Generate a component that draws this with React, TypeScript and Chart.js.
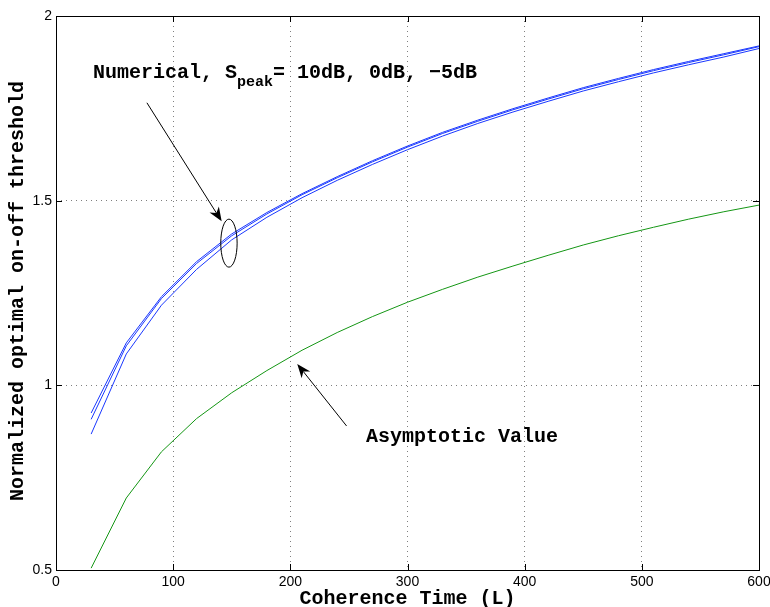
import React, { useEffect, useRef } from 'react';
import { Chart, registerables } from 'chart.js';

Chart.register(...registerables);

// ---- data ----
const coherenceTimes = [30, 60, 90, 120, 150, 180, 210, 240, 270, 300, 330, 360, 390, 420, 450, 480, 510, 540, 570, 600];
const numerical10dB = [0.925, 1.115, 1.24, 1.335, 1.41, 1.468, 1.519, 1.565, 1.608, 1.648, 1.685, 1.718, 1.749, 1.778, 1.806, 1.831, 1.855, 1.877, 1.898, 1.919];
const numerical0dB = [0.908, 1.107, 1.235, 1.33, 1.405, 1.464, 1.516, 1.562, 1.605, 1.645, 1.682, 1.715, 1.746, 1.775, 1.803, 1.828, 1.852, 1.874, 1.895, 1.917];
const numericalMinus5dB = [0.868, 1.085, 1.217, 1.314, 1.394, 1.455, 1.508, 1.555, 1.598, 1.638, 1.675, 1.709, 1.74, 1.769, 1.797, 1.822, 1.846, 1.868, 1.889, 1.912];
const asymptoticValue = [0.505, 0.695, 0.82, 0.91, 0.98, 1.04, 1.095, 1.143, 1.186, 1.225, 1.26, 1.293, 1.323, 1.352, 1.38, 1.405, 1.428, 1.45, 1.47, 1.488];

const xTicks = [0, 100, 200, 300, 400, 500, 600];
const yTicks = [0.5, 1, 1.5, 2];

const xTitle = 'Coherence Time (L)';
const yTitle = 'Normalized optimal on-off threshold';
const numLabelMain = 'Numerical, S';
const numLabelSub = 'peak';
const numLabelRest = '= 10dB, 0dB, \u22125dB';
const asymLabel = 'Asymptotic Value';

// annotation anchors (data coordinates)
const numTextAt = [31.6, 1.832];
const numArrowFrom = [77.6, 1.765];
const numArrowTo = [141.4, 1.444];
const ellipseAt = [147.6, 1.385];
const ellipseRadius = [7, 0.065];
const asymTextAt = [264.5, 0.846];
const asymArrowFrom = [248, 0.89];
const asymArrowTo = [205.9, 1.058];

const MONO = '"Liberation Mono", "Courier New", monospace';
const SANS = '"Liberation Sans", Arial, Helvetica, sans-serif';

function toPts(ys: number[]) {
  return coherenceTimes.map((x, i) => ({ x, y: ys[i] }));
}

function drawArrow(ctx: CanvasRenderingContext2D, x0: number, y0: number, x1: number, y1: number) {
  const ang = Math.atan2(y1 - y0, x1 - x0);
  const c = Math.cos(ang), s = Math.sin(ang);
  const L = 14, W = 5.5;
  ctx.beginPath();
  ctx.moveTo(x0, y0);
  ctx.lineTo(x1 - L * 0.7 * c, y1 - L * 0.7 * s);
  ctx.stroke();
  ctx.beginPath();
  ctx.moveTo(x1, y1);
  ctx.lineTo(x1 - L * c + W * s, y1 - L * s - W * c);
  ctx.lineTo(x1 - L * 0.7 * c, y1 - L * 0.7 * s);
  ctx.lineTo(x1 - L * c - W * s, y1 - L * s + W * c);
  ctx.closePath();
  ctx.fill();
}

const overlayPlugin = {
  id: 'overlay',
  afterDraw(chart: any) {
    const { ctx, chartArea: a } = chart;
    const xs = chart.scales.x, ys = chart.scales.y;
    const px = (v: number) => xs.getPixelForValue(v);
    const py = (v: number) => ys.getPixelForValue(v);
    ctx.save();
    ctx.strokeStyle = '#000';
    ctx.fillStyle = '#000';
    ctx.lineWidth = 1;
    ctx.setLineDash([]);
    // frame
    ctx.strokeRect(a.left + 0.5, a.top + 0.5, a.right - a.left, a.bottom - a.top);
    // inward ticks
    ctx.beginPath();
    for (const v of xTicks) {
      const X = Math.round(px(v)) + 0.5;
      ctx.moveTo(X, a.bottom); ctx.lineTo(X, a.bottom - 6);
      ctx.moveTo(X, a.top); ctx.lineTo(X, a.top + 6);
    }
    for (const v of yTicks) {
      const Y = Math.round(py(v)) + 0.5;
      ctx.moveTo(a.left, Y); ctx.lineTo(a.left + 6, Y);
      ctx.moveTo(a.right, Y); ctx.lineTo(a.right - 6, Y);
    }
    ctx.stroke();

    // annotations
    ctx.textAlign = 'left';
    ctx.textBaseline = 'alphabetic';
    ctx.font = `bold 20px ${MONO}`;
    let tx = px(numTextAt[0]);
    const ty = py(numTextAt[1]);
    ctx.fillText(numLabelMain, tx, ty);
    tx += ctx.measureText(numLabelMain).width;
    ctx.font = `bold 15px ${MONO}`;
    ctx.fillText(numLabelSub, tx, ty + 8);
    tx += ctx.measureText(numLabelSub).width;
    ctx.font = `bold 20px ${MONO}`;
    ctx.fillText(numLabelRest, tx, ty);

    ctx.fillText(asymLabel, px(asymTextAt[0]), py(asymTextAt[1]));

    drawArrow(ctx, px(numArrowFrom[0]), py(numArrowFrom[1]), px(numArrowTo[0]), py(numArrowTo[1]));
    drawArrow(ctx, px(asymArrowFrom[0]), py(asymArrowFrom[1]), px(asymArrowTo[0]), py(asymArrowTo[1]));

    const ex = px(ellipseAt[0]), ey = py(ellipseAt[1]);
    const rx = Math.abs(px(ellipseAt[0] + ellipseRadius[0]) - ex);
    const ry = Math.abs(py(ellipseAt[1] + ellipseRadius[1]) - ey);
    ctx.beginPath();
    ctx.ellipse(ex, ey, rx, ry, 0, 0, Math.PI * 2);
    ctx.stroke();

    // axis titles
    ctx.font = `bold 20px ${MONO}`;
    ctx.textAlign = 'center';
    ctx.fillText(xTitle, (a.left + a.right) / 2, 604);
    ctx.save();
    ctx.translate(23, (a.top + a.bottom) / 2 - 2);
    ctx.rotate(-Math.PI / 2);
    ctx.fillText(yTitle, 0, 0);
    ctx.restore();

    ctx.restore();
  },
};

export default function App() {
  const ref = useRef<HTMLCanvasElement | null>(null);
  useEffect(() => {
    if (!ref.current) return;
    const gridCommon = {
      color: 'rgba(0,0,0,0.5)',
      lineWidth: 1,
      drawTicks: false,
    };
    const chart = new Chart(ref.current, {
      type: 'scatter',
      data: {
        datasets: [
          { label: '10dB', data: toPts(numerical10dB), showLine: true, borderColor: 'rgb(25,55,255)', borderWidth: 1, pointRadius: 0, tension: 0 },
          { label: '0dB', data: toPts(numerical0dB), showLine: true, borderColor: 'rgb(25,55,255)', borderWidth: 1, pointRadius: 0, tension: 0 },
          { label: '-5dB', data: toPts(numericalMinus5dB), showLine: true, borderColor: 'rgb(25,55,255)', borderWidth: 1, pointRadius: 0, tension: 0 },
          { label: 'Asymptotic', data: toPts(asymptoticValue), showLine: true, borderColor: 'rgb(20,150,20)', borderWidth: 1, pointRadius: 0, tension: 0 },
        ],
      },
      options: {
        animation: false,
        responsive: false,
        maintainAspectRatio: false,
        devicePixelRatio: 1,
        layout: { padding: { top: 16, right: 11, left: 0, bottom: 0 } },
        plugins: { legend: { display: false }, tooltip: { enabled: false } },
        scales: {
          x: {
            type: 'linear',
            min: 0,
            max: 600,
            afterFit: (s: any) => { s.height = 37; s.paddingLeft = 0; s.paddingRight = 0; },
            afterBuildTicks: (s: any) => { s.ticks = xTicks.map((v) => ({ value: v })); },
            ticks: { color: '#000', font: { family: SANS, size: 14 }, padding: 4, maxRotation: 0, autoSkip: false, callback: (v: any) => String(v) },
            grid: gridCommon,
            border: { display: false, dash: [1, 4] },
          },
          y: {
            type: 'linear',
            min: 0.5,
            max: 2,
            afterFit: (s: any) => { s.width = 56; s.paddingTop = 0; s.paddingBottom = 0; },
            afterBuildTicks: (s: any) => { s.ticks = yTicks.map((v) => ({ value: v })); },
            ticks: { color: '#000', font: { family: SANS, size: 14 }, padding: 4, autoSkip: false, callback: (v: any) => String(v) },
            grid: gridCommon,
            border: { display: false, dash: [1, 4] },
          },
        },
      },
      plugins: [overlayPlugin],
    } as any);
    return () => chart.destroy();
  }, []);
  return (
    <div style={{ position: 'absolute', left: 0, top: 0, width: 770, height: 607, background: '#fff' }}>
      <canvas ref={ref} width={770} height={607} style={{ display: 'block' }} />
    </div>
  );
}
